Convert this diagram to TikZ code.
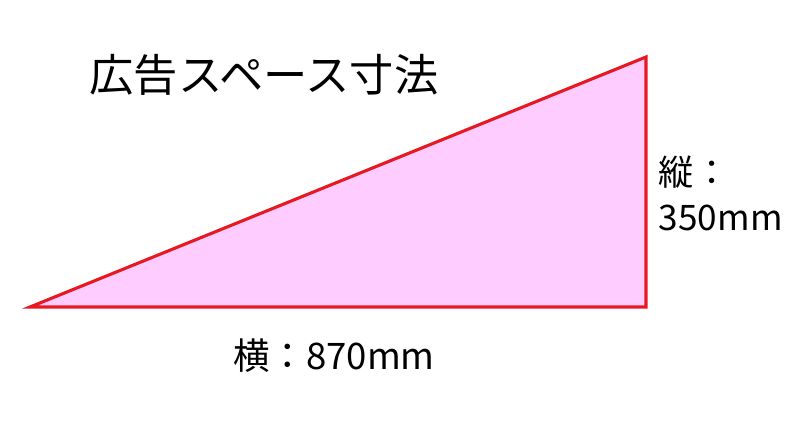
\documentclass[tikz,border=0pt]{standalone}
\usepackage{fontspec}
\newfontfamily\jpfont{Noto Sans CJK JP}
\definecolor{adpink}{RGB}{255,204,255}
\definecolor{adred}{RGB}{230,25,35}
\begin{document}
\begin{tikzpicture}
        \useasboundingbox (0,0) rectangle (20,10.5);
        \draw[adred,line width=2.2pt,fill=adpink,line join=miter]
        (0.75,2.825) coordinate (A)--
        (16.15,2.825) coordinate (B)--
        (16.15,9.075) coordinate (C)--cycle;
        \node[font=\jpfont\fontsize{31.5}{36}\selectfont] (title) at (6.6,8.625) {広告スペース寸法};
        \node[font=\jpfont\fontsize{25}{30}\selectfont,anchor=west] (tate) at (16.35,6.2) {縦：};
        \node[font=\jpfont\fontsize{25}{30}\selectfont,anchor=west] (tateval) at (16.35,5.05) {350mm};
        \node[font=\jpfont\fontsize{26}{30}\selectfont] (yoko) at (8.35,1.6) {横：870mm};
    \end{tikzpicture}
\end{document}
